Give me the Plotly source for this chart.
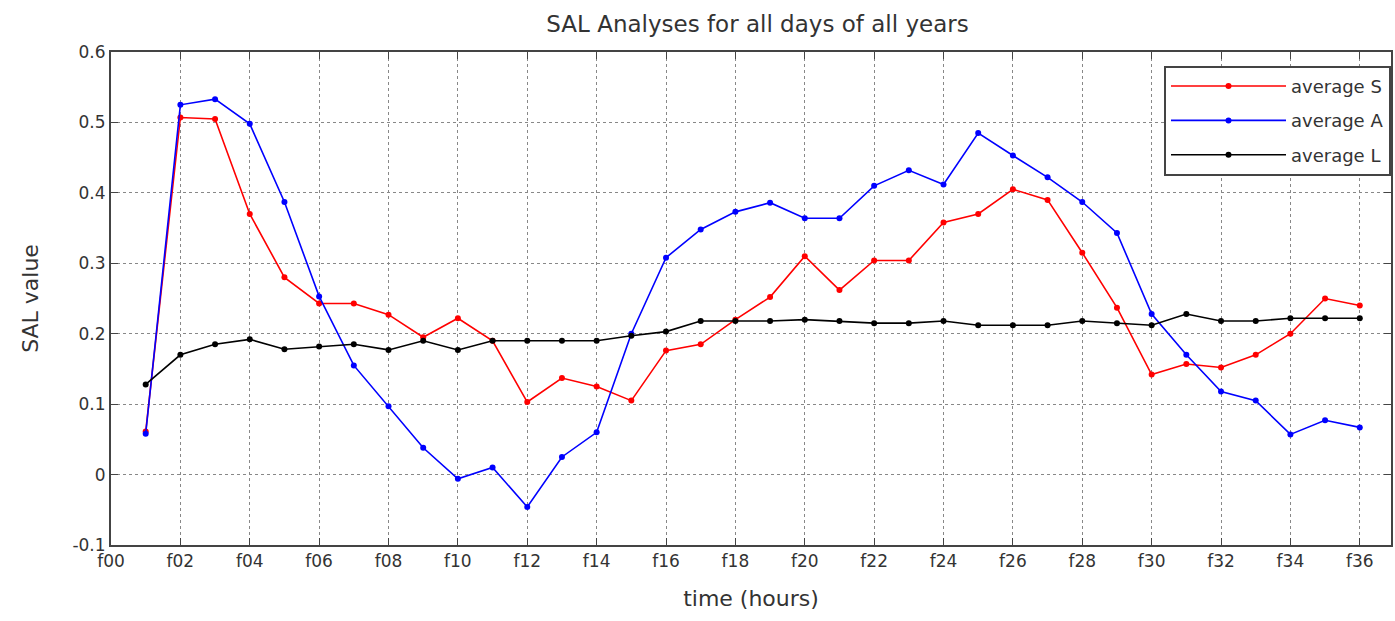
import plotly.graph_objects as go

hours = list(range(1, 37))
avg_S = [0.061, 0.507, 0.505, 0.370, 0.280, 0.243, 0.243, 0.227, 0.195, 0.222,
         0.190, 0.103, 0.137, 0.125, 0.105, 0.176, 0.185, 0.220, 0.252, 0.310,
         0.262, 0.304, 0.304, 0.358, 0.370, 0.405, 0.390, 0.315, 0.237, 0.142,
         0.157, 0.152, 0.170, 0.200, 0.250, 0.240]
avg_A = [0.058, 0.525, 0.533, 0.498, 0.387, 0.253, 0.155, 0.097, 0.038, -0.006,
         0.010, -0.046, 0.025, 0.060, 0.200, 0.308, 0.348, 0.373, 0.386, 0.364,
         0.364, 0.410, 0.432, 0.412, 0.485, 0.453, 0.422, 0.387, 0.343, 0.228,
         0.170, 0.118, 0.105, 0.057, 0.077, 0.067]
avg_L = [0.128, 0.170, 0.185, 0.192, 0.178, 0.182, 0.185, 0.177, 0.190, 0.177,
         0.190, 0.190, 0.190, 0.190, 0.197, 0.203, 0.218, 0.218, 0.218, 0.220,
         0.218, 0.215, 0.215, 0.218, 0.212, 0.212, 0.212, 0.218, 0.215, 0.212,
         0.228, 0.218, 0.218, 0.222, 0.222, 0.222]
x_tickvals = list(range(0, 37, 2))
x_ticktext = ["f%02d" % v for v in x_tickvals]
y_tickvals = [-0.1, 0, 0.1, 0.2, 0.3, 0.4, 0.5, 0.6]
y_ticktext = ["-0.1", "0", "0.1", "0.2", "0.3", "0.4", "0.5", "0.6"]

FONT = "DejaVu Sans, Liberation Sans, Arial"
fig = go.Figure()
for name, vals, col in [("average S", avg_S, "#ff0000"),
                        ("average A", avg_A, "#0000ff"),
                        ("average L", avg_L, "#000000")]:
    fig.add_trace(go.Scatter(x=hours, y=vals, name=name, mode="lines+markers",
                             legendgroup=name,
                             line=dict(color=col, width=1.6),
                             marker=dict(color=col, size=6, symbol="circle")))

axis_common = dict(showline=True, linecolor="#444", linewidth=2, mirror="ticks",
                   ticks="inside", ticklen=7, tickcolor="#444",
                   showgrid=True, gridcolor="#888", griddash="dot", gridwidth=1,
                   zeroline=False, tickfont=dict(family=FONT, size=17, color="#333"))

fig.update_layout(
    width=1395, height=621,
    margin=dict(l=111, r=2, t=52, b=76),
    paper_bgcolor="white", plot_bgcolor="white",
    title=dict(text="SAL Analyses for all days of all years", x=0.543, xanchor="center",
               y=0.962, yanchor="middle",
               font=dict(family=FONT, size=23, color="#333")),
    xaxis=dict(range=[0, 36.9], tickvals=x_tickvals, ticktext=x_ticktext,
               title=dict(text="time (hours)", standoff=20,
                          font=dict(family=FONT, size=22, color="#333")),
               **axis_common),
    yaxis=dict(range=[-0.1, 0.6], tickvals=y_tickvals, ticktext=y_ticktext,
               title=dict(text="SAL value", standoff=28,
                          font=dict(family=FONT, size=22, color="#333")),
               **axis_common),
    legend=dict(x=1.0, xanchor="right", y=0.972, yanchor="top",
                bgcolor="white", bordercolor="#444", borderwidth=2,
                font=dict(family=FONT, size=18, color="#333"),
                itemwidth=115, tracegroupgap=8, traceorder="grouped"),
    showlegend=True,
)

fig.write_html("out.html")
